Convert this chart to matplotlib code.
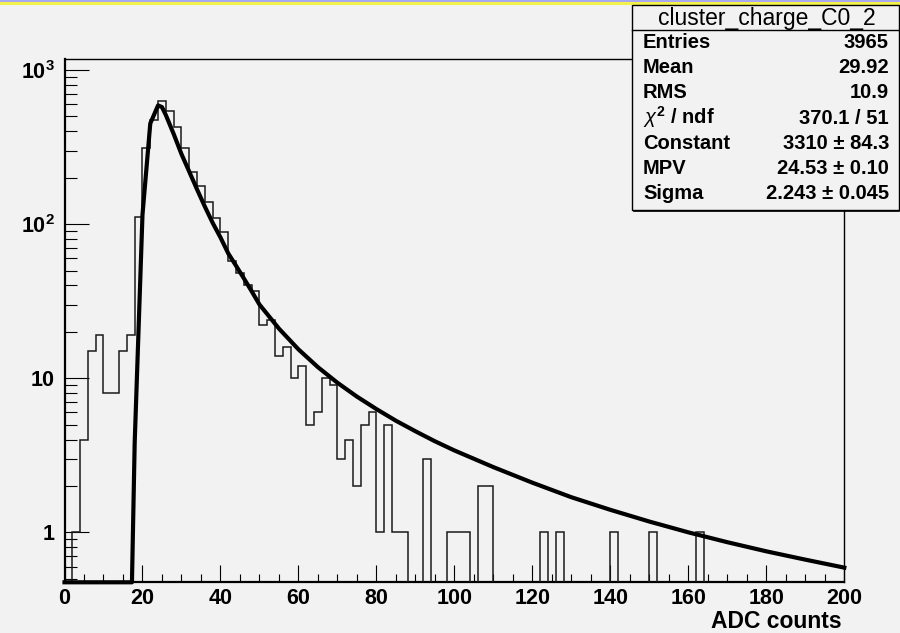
import numpy as np
import matplotlib
matplotlib.use("Agg")
import matplotlib.pyplot as plt
from matplotlib.ticker import FixedLocator, FixedFormatter, LogLocator, NullFormatter, MultipleLocator
from matplotlib.patches import Rectangle
from matplotlib.lines import Line2D

plt.rcParams['font.family'] = ['Liberation Sans', 'DejaVu Sans']
plt.rcParams['mathtext.fontset'] = 'custom'
plt.rcParams['mathtext.rm'] = 'Liberation Sans:bold'
plt.rcParams['mathtext.bf'] = 'Liberation Sans:bold'
plt.rcParams['mathtext.it'] = 'Liberation Sans:italic'

# ---------------- data ----------------
x_min, x_max = 0, 200
# histogram counts, 100 bins of width 2 ADC from 0 to 200
counts = [0, 1, 4, 15, 19, 8, 8, 15, 19, 112,
          312, 475, 632, 544, 425, 310, 218, 177, 140, 109,
          89, 58, 48, 40, 37, 22, 24, 14, 16, 10,
          12, 5, 6, 10, 9, 3, 4, 2, 5, 6,
          1, 5, 1, 1, 0, 0, 3, 0, 0, 1,
          1, 1, 0, 2, 2, 0, 0, 0, 0, 0,
          0, 1, 0, 1, 0, 0, 0, 0, 0, 0,
          1, 0, 0, 0, 0, 1, 0, 0, 0, 0,
          0, 1, 0, 0, 0, 0, 0, 0, 0, 0,
          0, 0, 0, 0, 0, 0, 0, 0, 0, 0]

# Landau fit curve (0 = below the axis)
fit_x = [0, 17.3, 18, 20, 22, 24, 25, 26, 28, 30, 32, 34, 36, 38, 40, 42, 44, 46, 48,
         50, 55, 60, 65, 70, 75, 80, 85, 90, 95, 100, 110, 120, 130, 140, 150,
         160, 170, 180, 190, 200]
fit_y = [0, 0, 3.8, 115, 450, 590, 575, 510, 385, 285, 219, 168, 130, 102, 82, 64.6,
         53.7, 44.5, 36.7,
         30.1, 21.0, 15.4, 11.8, 9.35, 7.6, 6.31, 5.30, 4.53, 3.90, 3.40, 2.65, 2.10,
         1.69, 1.40, 1.175, 1.00, 0.863, 0.753, 0.665, 0.59]

y_min, y_max = 0.474, 1180

x_ticks = [0, 20, 40, 60, 80, 100, 120, 140, 160, 180, 200]
y_ticks = [1, 10, 100, 1000]
y_tick_labels = ['1', '10', r'$10^{2}$', r'$10^{3}$']
x_label = 'ADC counts'

stats_title = 'cluster_charge_C0_2'
stats_names = ['Entries', 'Mean', 'RMS', r'$\chi^{2}$ / ndf', 'Constant', 'MPV', 'Sigma']
stats_values = ['3965', '29.92', '10.9', '370.1 / 51', '3310 \u00b1 84.3',
                '24.53 \u00b1 0.10', '2.243 \u00b1 0.045']

# ---------------- figure ----------------
W, H = 900, 633
bg = '#f2f2f2'
fig = plt.figure(figsize=(W / 100, H / 100), dpi=100, facecolor=bg)

def fx(px):
    return px / W

def fy(py):
    return 1 - py / H

L, R, T, B = 64.5, 844.3, 59.0, 582.3
ax = fig.add_axes([fx(L), fy(B), fx(R) - fx(L), fy(T) - fy(B)])
ax.set_facecolor(bg)
ax.set_yscale('log')
ax.set_xlim(x_min, x_max)
ax.set_ylim(y_min, y_max)

# histogram outline
n_bins = len(counts)
edges = np.linspace(x_min, x_max, n_bins + 1)
cvals = np.array(counts, dtype=float)
cdraw = np.where(cvals > 0, cvals, y_min * 0.01)
ax.stairs(cdraw, edges, color='#1a1a1a', lw=1.1, baseline=None, zorder=3)

# fit curve
fy_arr = np.array(fit_y, dtype=float)
fy_draw = np.where(fy_arr > y_min, fy_arr, y_min)
ax.plot(fit_x, fy_draw, color='black', lw=3.0, solid_joinstyle='round',
        clip_on=False, zorder=4)

# ticks
ax.xaxis.set_major_locator(FixedLocator(x_ticks))
ax.xaxis.set_minor_locator(MultipleLocator(5))
ax.yaxis.set_major_locator(FixedLocator(y_ticks))
ax.yaxis.set_major_formatter(FixedFormatter(y_tick_labels))
ax.yaxis.set_minor_locator(LogLocator(base=10, subs=np.arange(2, 10), numticks=20))
ax.yaxis.set_minor_formatter(NullFormatter())

ax.tick_params(axis='x', which='major', direction='in', length=12, width=0.8,
               labelsize=15.5, pad=4, top=False)
ax.tick_params(axis='x', which='minor', direction='in', length=6, width=0.8, top=False)
ax.tick_params(axis='y', which='major', direction='in', length=17, width=0.8,
               labelsize=15.5, pad=7, right=False)
ax.tick_params(axis='y', which='minor', direction='in', length=8.5, width=0.8, right=False)
for lab in ax.get_xticklabels() + ax.get_yticklabels():
    lab.set_fontweight('bold')

for s in ['left', 'bottom']:
    ax.spines[s].set_linewidth(1.6)
for s in ['top', 'right']:
    ax.spines[s].set_linewidth(1.0)

fig.text(fx(842), fy(628), x_label, ha='right', va='baseline',
         fontsize=16.5, fontweight='bold')

# top canvas border (ROOT style)
fig.patches.append(Rectangle((0, fy(1.7)), 1, 1.7 / H, transform=fig.transFigure,
                             facecolor='#a8a8f2', edgecolor='none', zorder=10))
fig.patches.append(Rectangle((0, fy(5)), 1, 3.3 / H, transform=fig.transFigure,
                             facecolor='#f2f24a', edgecolor='none', zorder=10))

# stats box
bx0, bx1, by0, by1 = 632, 898.5, 4.5, 210
fig.patches.append(Rectangle((fx(bx0), fy(by1)), fx(bx1) - fx(bx0), fy(by0) - fy(by1),
                             transform=fig.transFigure, facecolor=bg, edgecolor='black',
                             lw=1.0, zorder=20))
fig.lines.append(Line2D([fx(bx0 + 2), fx(bx1)], [fy(by1 + 1), fy(by1 + 1)],
                        transform=fig.transFigure, color='black', lw=1.2, zorder=21))
fig.lines.append(Line2D([fx(bx0), fx(bx1)], [fy(30), fy(30)],
                        transform=fig.transFigure, color='black', lw=1.0, zorder=21))
fig.text(fx(767), fy(25), stats_title, ha='center', va='baseline',
         fontsize=16.5, zorder=22)
for i, (nm, val) in enumerate(zip(stats_names, stats_values)):
    yb = 48.3 + 25.1 * i
    fig.text(fx(643), fy(yb), nm, ha='left', va='baseline', fontsize=14.5,
             fontweight='bold', zorder=22)
    fig.text(fx(889), fy(yb), val, ha='right', va='baseline', fontsize=14.5,
             fontweight='bold', zorder=22)

fig.savefig('out.png', dpi=100, facecolor=bg)
